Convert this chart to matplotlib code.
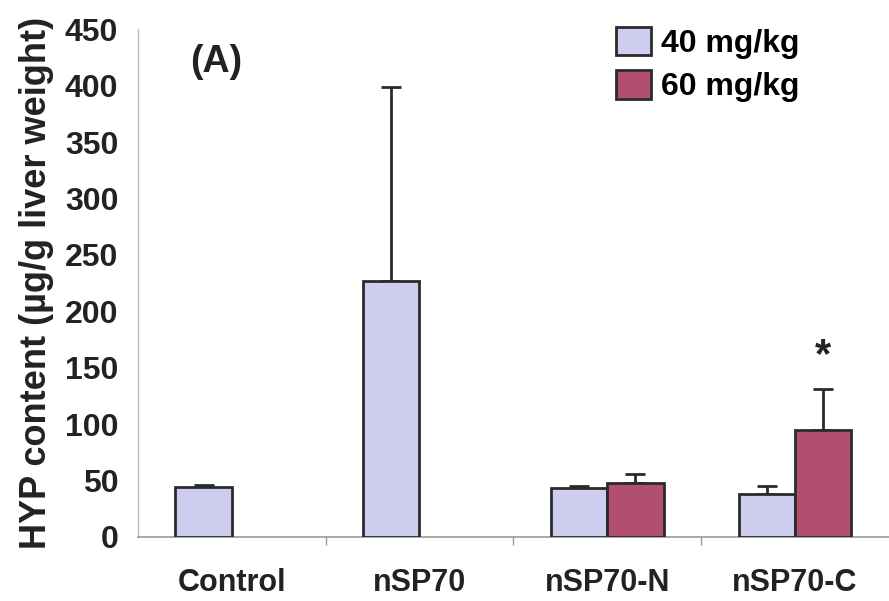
import numpy as np
import matplotlib
matplotlib.use("Agg")
import matplotlib.pyplot as plt
from matplotlib.patches import Patch

# data
groups = ["Control", "nSP70", "nSP70-N", "nSP70-C"]
dose_labels = ["40 mg/kg", "60 mg/kg"]
mean_40 = [44, 227, 43, 38]
err_40 = [2, 172, 2, 7]
mean_60 = [None, None, 48, 95]
err_60 = [None, None, 8, 36]
yticks = [0, 50, 100, 150, 200, 250, 300, 350, 400, 450]

c40 = "#CDCDEF"
c60 = "#B24F70"
edge = "#2b2b2b"

plt.rcParams['font.family'] = ['Liberation Sans', 'DejaVu Sans']
plt.rcParams['font.weight'] = 'bold'

fig = plt.figure(figsize=(8.89, 6.01), dpi=100)
ax = fig.add_axes([0.155, 0.1065, 0.845, 0.845])

x = np.arange(len(groups))
w = 0.3

# 40 mg/kg bars (every group)
ax.bar(x - w / 2, mean_40, w, color=c40, edgecolor=edge, linewidth=2, zorder=3)
ax.errorbar(x - w / 2, mean_40, yerr=[np.zeros(len(err_40)), err_40], fmt="none",
            ecolor=edge, elinewidth=2, capsize=7, capthick=2, zorder=2)

# 60 mg/kg bars (only where measured)
idx = [i for i, v in enumerate(mean_60) if v is not None]
m60 = [mean_60[i] for i in idx]
e60 = [err_60[i] for i in idx]
ax.bar(x[idx] + w / 2, m60, w, color=c60, edgecolor=edge, linewidth=2, zorder=3)
ax.errorbar(x[idx] + w / 2, m60, yerr=[np.zeros(len(e60)), e60], fmt="none",
            ecolor=edge, elinewidth=2, capsize=7, capthick=2, zorder=2)

# significance mark
ax.text(x[3] + w / 2, m60[-1] + e60[-1] + 12, "*", ha="center", va="bottom",
        fontsize=30, fontweight="bold", color="#222222")

ax.set_xlim(-0.5, len(groups) - 0.5)
ax.set_ylim(0, 450)
ax.set_yticks(yticks)
ax.set_yticklabels([str(t) for t in yticks], fontsize=23, fontweight="bold", color="#222222")
ax.set_xticks(x)
ax.set_xticklabels(groups, fontsize=22, fontweight="bold", color="#222222")
ax.set_xticks(x[:-1] + 0.5, minor=True)
ax.tick_params(axis="x", which="major", length=0, pad=22)
ax.tick_params(axis="x", which="minor", length=6, color="#999999", width=1)
ax.tick_params(axis="y", length=0, pad=14)

ax.set_ylabel("HYP content (µg/g liver weight)", fontsize=26, fontweight="bold",
              color="#222222", labelpad=8)

for s in ["top", "right"]:
    ax.spines[s].set_visible(False)
ax.spines["left"].set_color("#bbbbbb")
ax.spines["bottom"].set_color("#999999")
ax.spines["left"].set_linewidth(1)
ax.spines["bottom"].set_linewidth(1.2)

ax.text(0.07, 0.97, "(A)", transform=ax.transAxes, fontsize=27, fontweight="bold",
        color="#222222", ha="left", va="top")

handles = [Patch(facecolor=c40, edgecolor=edge, linewidth=2),
           Patch(facecolor=c60, edgecolor=edge, linewidth=2)]
ax.legend(handles, dose_labels, loc="upper left", bbox_to_anchor=(0.62, 1.03),
          frameon=False, fontsize=23, handlelength=1.1, handleheight=1.0,
          handletextpad=0.3, labelspacing=0.35, borderaxespad=0)

fig.savefig("out.png", dpi=100)
